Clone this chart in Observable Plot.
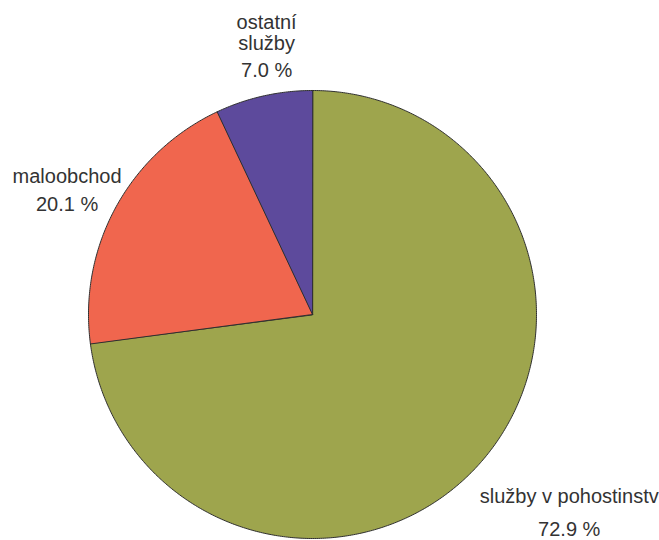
<!DOCTYPE html>
<html>
<head>
<meta charset="utf-8">
<script src="https://cdn.jsdelivr.net/npm/d3@7"></script>
<script src="https://cdn.jsdelivr.net/npm/@observablehq/plot@0.6"></script>
<style>
  body { margin: 0; background: #fff; }
  svg { display: block; }
</style>
</head>
<body>
<div id="chart"></div>
<script>
// Shares of the three sectors, clockwise from 12 o'clock
const categories = ["služby v pohostinstv", "maloobchod", "ostatní\nslužby"];
const shares = [72.9, 20.1, 7.0];
const shareLabels = ["72.9 %", "20.1 %", "7.0 %"];
const colors = ["#9ea54d", "#f0664e", "#5d4a9c"];

const W = 659, H = 540;
const cx = 312, cy = 314, R = 224;   // pie centre and radius in pixels

// where each label block sits: rotation from the slice middle (degrees),
// distance in radii, and half the gap (px) between name and percentage
const labelPlacement = [
  { turn: -3.5, r: 1.449, gap: 17 },
  { turn: -1.8, r: 1.228, gap: 14 },
  { turn: 2.5, r: 1.168, gap: 13.5 }
];
const lineHeightEm = 1.05;
const fontSize = 20;

const total = d3.sum(shares);
let acc = 0;
const slices = shares.map((v, i) => {
  const a0 = acc / total * 2 * Math.PI;
  acc += v;
  const a1 = acc / total * 2 * Math.PI;
  return { i, category: categories[i], value: v, a0, a1, mid: (a0 + a1) / 2 };
});

// slice outlines: centre point followed by the arc, in unit-radius coordinates
const outline = slices.flatMap(s => {
  const n = Math.max(2, Math.ceil((s.a1 - s.a0) / (Math.PI / 360)));
  const pts = [{ slice: s.category, x: 0, y: 0 }];
  for (let k = 0; k <= n; k++) {
    const a = s.a0 + (s.a1 - s.a0) * k / n;
    pts.push({ slice: s.category, x: Math.sin(a), y: Math.cos(a) });
  }
  return pts;
});

// label anchors
const labels = slices.map(s => {
  const p = labelPlacement[s.i];
  const a = s.mid + p.turn * Math.PI / 180;
  const lx = Math.sin(a) * p.r, ly = Math.cos(a) * p.r;
  const lines = s.category.split("\n").length;
  return {
    name: s.category,
    pct: shareLabels[s.i],
    x: lx,
    yName: ly + (p.gap + (lines - 1) * lineHeightEm * fontSize / 2) / R,
    yPct: ly - p.gap / R
  };
});

const chart = Plot.plot({
  width: W,
  height: H,
  margin: 0,
  x: { domain: [-cx / R, (W - cx) / R], range: [0, W], axis: null },
  y: { domain: [-(H - cy) / R, cy / R], range: [H, 0], axis: null },
  color: { domain: categories, range: colors },
  style: { fontFamily: "'Liberation Sans', Arial, sans-serif", background: "#fff" },
  marks: [
    Plot.line(outline, {
      x: "x", y: "y", z: "slice",
      fill: "slice",
      stroke: "#2f2f2f",
      strokeWidth: 1,
      strokeLinejoin: "round",
      curve: "linear-closed"
    }),
    Plot.text(labels, {
      x: "x", y: "yName", text: "name",
      fontSize, lineHeight: lineHeightEm,
      fill: "#333", textAnchor: "middle"
    }),
    Plot.text(labels, {
      x: "x", y: "yPct", text: "pct",
      fontSize, fill: "#333", textAnchor: "middle"
    })
  ]
});

document.getElementById("chart").append(chart);
</script>
</body>
</html>
